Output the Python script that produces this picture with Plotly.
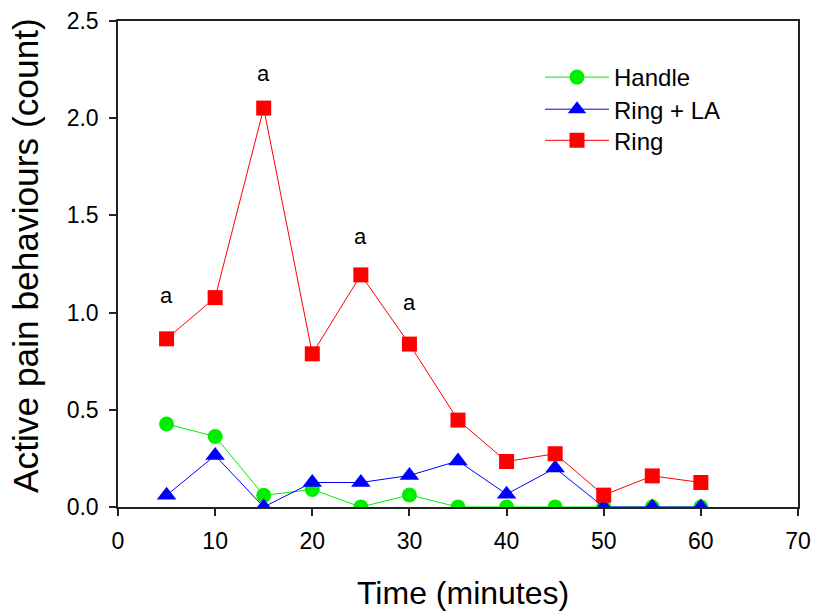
import plotly.graph_objects as go

time = [5, 10, 15, 20, 25, 30, 35, 40, 45, 50, 55, 60]
handle = [0.427, 0.363, 0.06, 0.09, 0.0, 0.062, 0.0, 0.0, 0.0, 0.0, 0.0, 0.0]
ring_la = [0.06, 0.265, 0.0, 0.126, 0.126, 0.162, 0.237, 0.066, 0.2, 0.0, 0.0, 0.0]
ring = [0.865, 1.077, 2.052, 0.788, 1.194, 0.838, 0.447, 0.234, 0.274, 0.061, 0.16, 0.126]

sig_x = [5, 15, 25, 30]
sig_y = [1.09, 2.23, 1.39, 1.05]
sig_text = ["a", "a", "a", "a"]

x_title = "Time (minutes)"
y_title = "Active pain behaviours (count)"

FONT = "Arial, Liberation Sans, sans-serif"

fig = go.Figure()
fig.add_trace(go.Scatter(x=time, y=handle, name="Handle", mode="lines+markers",
                         legend="legend", showlegend=True,
                         line=dict(color="#00ee00", width=1),
                         marker=dict(symbol="circle", size=15, color="#00ee00")))
fig.add_trace(go.Scatter(x=time, y=ring_la, name="Ring + LA", mode="lines+markers",
                         legend="legend2", showlegend=True,
                         line=dict(color="#0000ff", width=1),
                         marker=dict(symbol="triangle-up", size=17, color="#0000ff")))
fig.add_trace(go.Scatter(x=time, y=ring, name="Ring", mode="lines+markers",
                         legend="legend3", showlegend=True,
                         line=dict(color="#ff0000", width=1),
                         marker=dict(symbol="square", size=15, color="#ff0000")))

for xs, ys, t in zip(sig_x, sig_y, sig_text):
    fig.add_annotation(x=xs, y=ys, text=t, showarrow=False,
                       font=dict(family=FONT, size=22, color="black"))

# axis titles placed as annotations for exact positioning
fig.add_annotation(text=x_title, xref="paper", yref="paper", x=0.507, y=-0.177,
                   xanchor="center", yanchor="middle", showarrow=False,
                   font=dict(family=FONT, size=32, color="black"))
fig.add_annotation(text=y_title, xref="paper", yref="paper", x=-0.1368, y=0.5185,
                   xanchor="center", yanchor="middle", showarrow=False, textangle=-90,
                   font=dict(family=FONT, size=35.3, color="black"))

axis_common = dict(showgrid=False, zeroline=False, showline=True, linecolor="#222222",
                   linewidth=1.5, mirror=True, ticks="outside", ticklen=7,
                   tickcolor="#222222", tickwidth=1.5, automargin=False,
                   tickfont=dict(family=FONT, size=23, color="black"))

fig.update_xaxes(range=[0, 70], tickvals=[0, 10, 20, 30, 40, 50, 60, 70],
                 ticklabelstandoff=6, **axis_common)
fig.update_yaxes(range=[0, 2.5], tickvals=[0, 0.5, 1.0, 1.5, 2.0, 2.5],
                 ticktext=["0.0", "0.5", "1.0", "1.5", "2.0", "2.5"],
                 ticklabelstandoff=6, **axis_common)

leg_common = dict(x=0.6206, xanchor="left", yanchor="top",
                  font=dict(family=FONT, size=24, color="black"),
                  bgcolor="rgba(0,0,0,0)", itemwidth=64)

fig.update_layout(
    width=816, height=611,
    showlegend=True,
    margin=dict(l=118, r=18, t=21, b=104),
    plot_bgcolor="white", paper_bgcolor="white",
    legend=dict(y=0.930, visible=True, **leg_common),
    legend2=dict(y=0.864, visible=True, **leg_common),
    legend3=dict(y=0.800, visible=True, **leg_common),
)

fig.write_html("out.html", config={"displayModeBar": False},
               post_script="document.body.style.margin='0';document.body.style.overflow='hidden';")
